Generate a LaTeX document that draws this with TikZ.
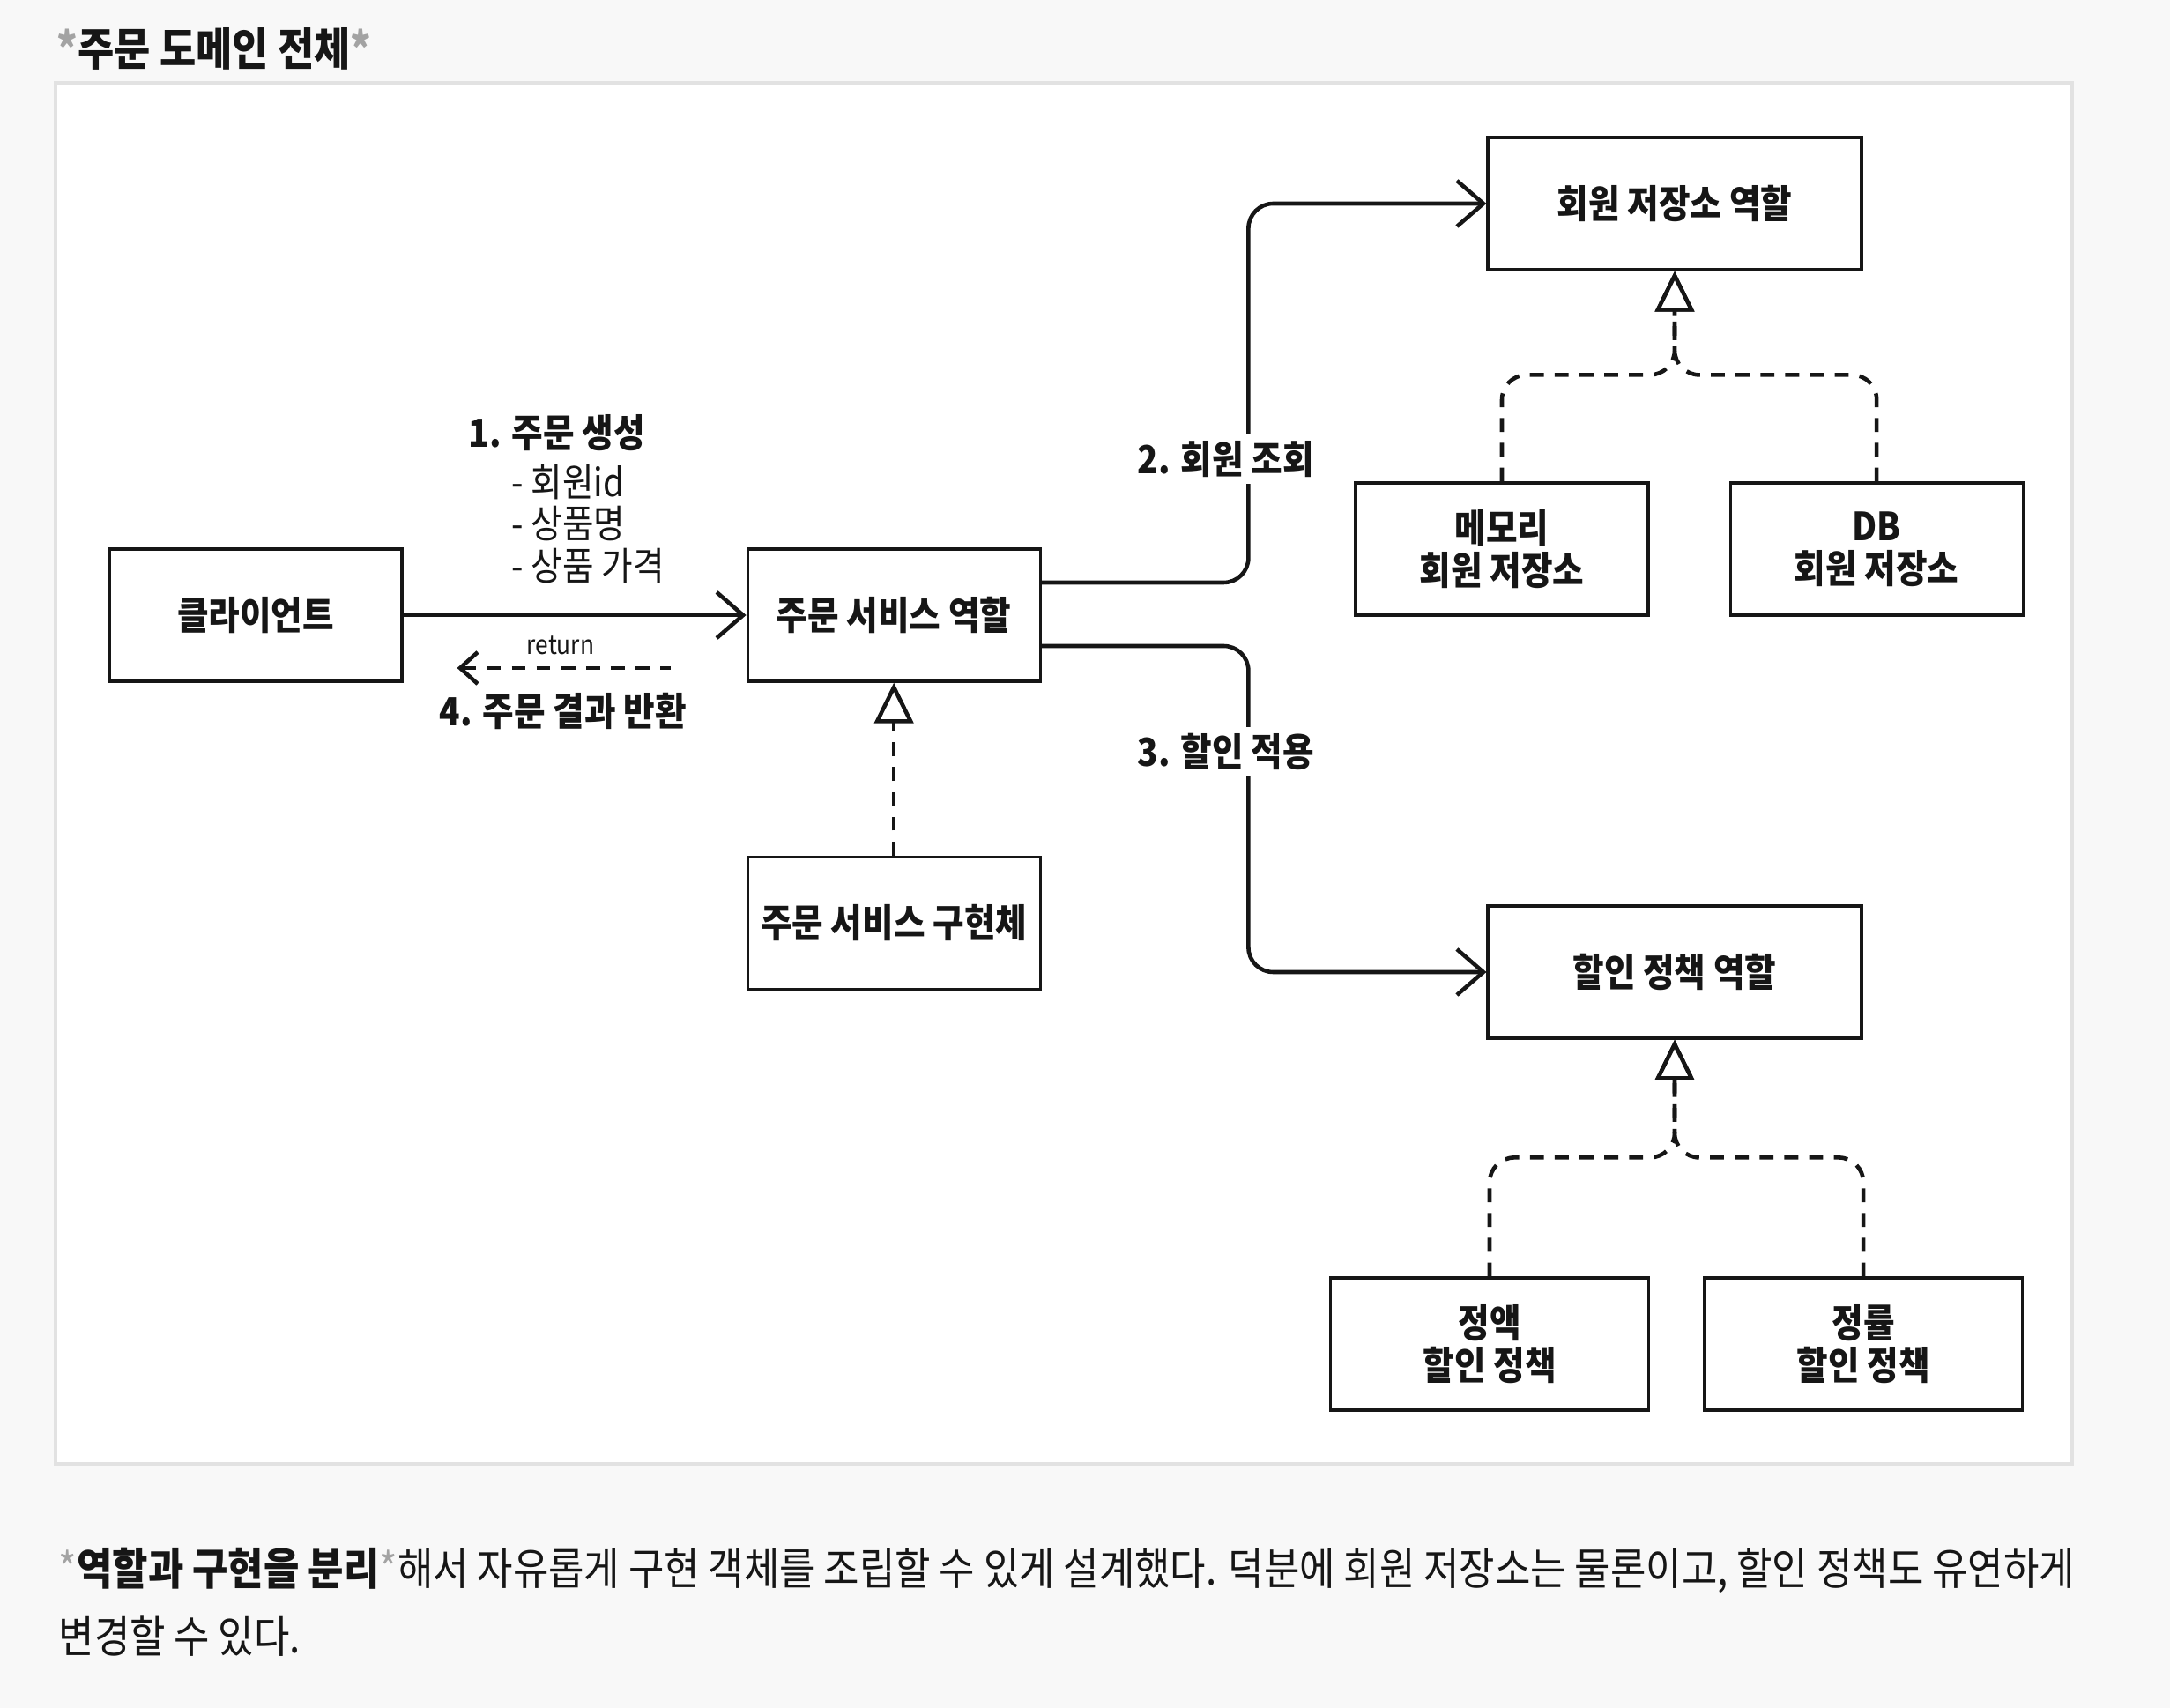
\documentclass[tikz,border=0pt]{standalone}
\usepackage{fontspec}
\setmainfont{Noto Sans CJK KR}[FakeStretch=0.88]
\usetikzlibrary{arrows.meta,positioning}

\definecolor{pagebg}{HTML}{F8F8F8}
\definecolor{framegray}{HTML}{E2E2E2}
\definecolor{ink}{HTML}{161616}
\definecolor{stargray}{HTML}{A3A3A3}

\newcommand{\boxfont}{\fontsize{12.5}{13.6}\selectfont\bfseries}
\newcommand{\plainfont}{\fontsize{12.5}{13.6}\selectfont}

\begin{document}
\begin{tikzpicture}[
  >={Straight Barb[length=3mm,width=5.2mm]},
  box/.style={draw=ink, line width=0.9pt, fill=white, align=center, minimum width=3.32cm, minimum height=1.5cm, inner sep=1pt, font=\boxfont, text=ink},
  role/.style={box, minimum width=4.24cm},
  policy/.style={box, minimum width=3.61cm},
  call/.style={->, draw=ink, line width=1.3pt, rounded corners=8pt},
  back/.style={{Straight Barb[length=2mm,width=3.6mm]}-, draw=ink, line width=1.3pt, dash pattern=on 4.5pt off 3.5pt},
  impl/.style={-{Triangle[length=4.6mm,width=4.4mm,fill=white]}, draw=ink, line width=1.3pt, dash pattern=on 4.5pt off 3.5pt, rounded corners=8pt},
  lbl/.style={font=\boxfont, text=ink, fill=white, inner sep=2pt},
  note/.style={font=\plainfont, text=ink, align=left, inner sep=0pt}
]

\fill[pagebg] (0,0) rectangle (24.62,-19.38);
\useasboundingbox (0,0) rectangle (24.62,-19.38);
\draw[framegray, line width=1.2pt, fill=white] (0.63,-0.94) rectangle (23.51,-16.61);

\node[anchor=west, inner sep=0pt, font=\fontsize{14.5}{16}\selectfont\bfseries, text=ink] (title) at (0.64,-0.55)
  {\textcolor{stargray}{*}주문 도메인 전체\textcolor{stargray}{*}};

% order service side
\node[box] (client) at (2.90,-6.98) {클라이언트};
\node[box, right=3.89cm of client] (service) {주문 서비스 역할};
\node[box, below=1.96cm of service] (impl) {주문 서비스 구현체};

% member repository
\node[role] (memberRole) at (19.00,-2.31) {회원 저장소 역할};
\node[box] (memory) at (17.04,-6.23) {메모리\\회원 저장소};
\node[box, right=0.90cm of memory] (db) {DB\\회원 저장소};

% discount policy
\node[role] (discountRole) at (19.00,-11.03) {할인 정책 역할};
\node[policy] (fixed) at (16.90,-15.25) {정액\\할인 정책};
\node[policy, right=0.60cm of fixed] (rate) {정률\\할인 정책};

\draw[call] (client) -- (service);
\node[lbl, fill=none] (create) at (6.32,-4.91) {1. 주문 생성};
\node[note, anchor=north west] (params) at (5.80,-5.26) {- 회원id\\- 상품명\\- 상품 가격};

\coordinate[below left=0.60cm and 0.86cm of service.west] (retfrom);
\coordinate[left=2.42cm of retfrom] (retto);
\draw[back] (retto) -- (retfrom);
\node[font=\fontsize{8.5}{10}\selectfont, text=ink, inner sep=1pt] (ret) at (6.36,-7.32) {return};
\node[lbl, fill=none] (result) at (6.39,-8.07) {4. 주문 결과 반환};

\draw[call] ([yshift=3.7mm]service.east) -| ([xshift=-2.70cm]memberRole.west) -- (memberRole.west);
\draw[call] ([yshift=-3.5mm]service.east) -| ([xshift=-2.70cm]discountRole.west) -- (discountRole.west);
\node[lbl] (lookup) at (13.91,-5.21) {2. 회원 조회};
\node[lbl] (apply) at (13.91,-8.53) {3. 할인 적용};

\draw[impl] (impl) -- (service);
\draw[impl] (memory.north) -- ++(0,1.21) -| (memberRole.south);
\draw[impl] (db.north) -- ++(0,1.21) -| (memberRole.south);
\draw[impl] (fixed.north) -- ++(0,1.35) -| (discountRole.south);
\draw[impl] (rate.north) -- ++(0,1.35) -| (discountRole.south);

\node[note, anchor=north west, font=\fontsize{14.2}{22}\selectfont] (caption) at (0.66,-17.55)
  {\textcolor{stargray}{*}\textbf{역할과 구현을 분리}\textcolor{stargray}{*}해서 자유롭게 구현 객체를 조립할 수 있게 설계했다. 덕분에 회원 저장소는 물론이고, 할인 정책도 유연하게\\변경할 수 있다.};

\end{tikzpicture}
\end{document}
